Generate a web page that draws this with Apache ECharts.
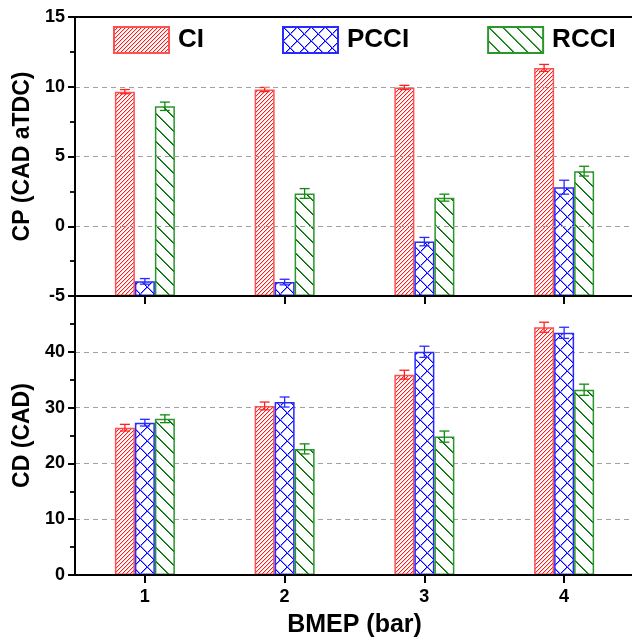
<!DOCTYPE html>
<html>
<head>
<meta charset="utf-8">
<script src="https://cdn.jsdelivr.net/npm/echarts@6/dist/echarts.min.js"></script>
<style>
html, body { margin: 0; padding: 0; background: #fff; }
#chart { width: 632px; height: 642px; }
</style>
</head>
<body>
<div id="chart"></div>
<script>
// categories (BMEP, bar)
var categories = ['1', '2', '3', '4'];
var seriesNames = ['CI', 'PCCI', 'RCCI'];

// CP (CAD aTDC) - top panel
var cpCI = [9.65, 9.8, 9.95, 11.35];
var cpCIErr = [0.15, 0.15, 0.15, 0.25];
var cpPCCI = [-3.95, -4.0, -1.1, 2.8];
var cpPCCIErr = [0.2, 0.2, 0.3, 0.5];
var cpRCCI = [8.6, 2.35, 2.05, 3.95];
var cpRCCIErr = [0.3, 0.35, 0.25, 0.35];

// CD (CAD) - bottom panel
var cdCI = [26.4, 30.3, 35.9, 44.4];
var cdCIErr = [0.6, 0.7, 0.8, 0.9];
var cdPCCI = [27.3, 31.0, 40.0, 43.4];
var cdPCCIErr = [0.6, 0.9, 1.0, 1.0];
var cdRCCI = [28.0, 22.6, 24.8, 33.2];
var cdRCCIErr = [0.7, 0.9, 1.0, 1.0];

// top panel bars start from the axis bottom (-5)
var cpBase = -5;

var font = 'Liberation Sans, Arial, sans-serif';

// pixel hatch tiles for the bar fills (main colour + soft edge pixel)
function hatch(size, color, soft, dirs) {
  var c = document.createElement('canvas');
  c.width = size; c.height = size;
  var ctx = c.getContext('2d');
  ctx.fillStyle = '#fff';
  ctx.fillRect(0, 0, size, size);
  dirs.forEach(function (d) {
    for (var i = 0; i < size; i++) {
      var x = d === '/' ? size - 1 - i : i;
      if (soft) {
        ctx.fillStyle = soft;
        ctx.fillRect((x + 1) % size, i, 1, 1);
      }
      ctx.fillStyle = color;
      ctx.fillRect(x, i, 1, 1);
    }
  });
  return { image: c, repeat: 'repeat' };
}

var styles = {
  CI: { fill: hatch(4, '#ff1a1a', '#ffd2d2', ['/']), border: '#ff5050', err: '#ff2020' },
  PCCI: { fill: hatch(14, '#0000ff', '#9090ff', ['/', '\\']), border: '#2a2aff', err: '#2a2aff' },
  RCCI: { fill: hatch(14, '#006e00', '#2f8f2f', ['\\']), border: '#2b962b', err: '#108a10' }
};
var offsets = { CI: -20, PCCI: 0, RCCI: 20 };

function barSeries(name, xi, yi, vals, shift) {
  return {
    name: name, type: 'bar', xAxisIndex: xi, yAxisIndex: yi,
    barWidth: 20, barGap: '0%', z: 2,
    itemStyle: { color: styles[name].fill, borderColor: styles[name].border, borderWidth: 1.5 },
    data: vals.map(function (v) { return v + shift; })
  };
}

function errSeries(name, xi, yi, vals, errs, shift) {
  var color = styles[name].err;
  var off = offsets[name];
  return {
    name: name + ' err', type: 'custom', xAxisIndex: xi, yAxisIndex: yi, z: 4,
    encode: { x: 0, y: [1, 2] },
    renderItem: function (params, api) {
      var lo = api.coord([api.value(0), api.value(1)]);
      var hi = api.coord([api.value(0), api.value(2)]);
      var x = lo[0] + off;
      var hw = 5;
      var st = { stroke: color, lineWidth: 1.3 };
      return {
        type: 'group',
        children: [
          { type: 'line', shape: { x1: x, y1: lo[1], x2: x, y2: hi[1] }, style: st },
          { type: 'line', shape: { x1: x - hw, y1: lo[1], x2: x + hw, y2: lo[1] }, style: st },
          { type: 'line', shape: { x1: x - hw, y1: hi[1], x2: x + hw, y2: hi[1] }, style: st }
        ]
      };
    },
    data: vals.map(function (v, i) { return [i, v - errs[i] + shift, v + errs[i] + shift]; })
  };
}

var black = { color: '#000', width: 2 };
var dashed = { show: true, lineStyle: { color: '#a0a0a0', type: [5, 4], width: 1.2 } };
var tickLabel = { color: '#000', fontSize: 18, fontWeight: 'bold', fontFamily: font };

function valueAxis(grid, max, name, fmt, extra) {
  var ax = {
    type: 'value', gridIndex: grid, min: 0, max: max, interval: max === 20 ? 5 : 10,
    axisLine: { show: true, lineStyle: black },
    axisTick: { show: true, length: 7, lineStyle: black },
    minorTick: { show: true, splitNumber: 2, length: 5, lineStyle: { color: '#000', width: 1.8 } },
    axisLabel: Object.assign({ margin: 10, formatter: fmt }, tickLabel),
    splitLine: dashed,
    name: name, nameLocation: 'middle', nameGap: 41,
    nameTextStyle: { color: '#000', fontSize: 23, fontWeight: 'bold', fontFamily: font }
  };
  return Object.assign(ax, extra || {});
}

var chart = echarts.init(document.getElementById('chart'));
var option = {
  animation: false,
  backgroundColor: '#fff',
  legend: {
    data: seriesNames, left: 113, top: 26, padding: 0,
    itemWidth: 55, itemHeight: 26, itemGap: 78, icon: 'rect',
    textStyle: { color: '#000', fontSize: 26, fontWeight: 'bold', fontFamily: font, padding: [0, 0, 0, 4] }
  },
  grid: [
    { left: 75, top: 17, width: 559, height: 279, outerBoundsMode: 'none', containLabel: false },
    { left: 75, top: 296, width: 559, height: 279, outerBoundsMode: 'none', containLabel: false }
  ],
  xAxis: [
    {
      type: 'category', gridIndex: 0, data: categories, z: 6,
      axisLine: { show: true, lineStyle: black },
      axisTick: { show: true, alignWithLabel: true, length: 8, lineStyle: black },
      axisLabel: { show: false }
    },
    {
      type: 'category', gridIndex: 0, data: categories, position: 'top', z: 6,
      axisLine: { show: true, lineStyle: black },
      axisTick: { show: false }, axisLabel: { show: false }
    },
    {
      type: 'category', gridIndex: 1, data: categories, z: 6,
      axisLine: { show: true, lineStyle: black },
      axisTick: { show: true, alignWithLabel: true, length: 8, lineStyle: black },
      axisLabel: Object.assign({ margin: 13 }, tickLabel),
      name: 'BMEP (bar)', nameLocation: 'middle', nameGap: 38,
      nameTextStyle: { color: '#000', fontSize: 25, fontWeight: 'bold', fontFamily: font }
    }
  ],
  yAxis: [
    valueAxis(0, 20, 'CP (CAD aTDC)', function (v) { return String(v + cpBase); }, { z: 5 }),
    valueAxis(1, 50, 'CD (CAD)', function (v) { return String(v); },
      { z: 1, axisLabel: Object.assign({ margin: 10, showMaxLabel: false }, tickLabel) })
  ],
  series: [
    barSeries('CI', 0, 0, cpCI, -cpBase),
    barSeries('PCCI', 0, 0, cpPCCI, -cpBase),
    barSeries('RCCI', 0, 0, cpRCCI, -cpBase),
    errSeries('CI', 0, 0, cpCI, cpCIErr, -cpBase),
    errSeries('PCCI', 0, 0, cpPCCI, cpPCCIErr, -cpBase),
    errSeries('RCCI', 0, 0, cpRCCI, cpRCCIErr, -cpBase),
    barSeries('CI', 2, 1, cdCI, 0),
    barSeries('PCCI', 2, 1, cdPCCI, 0),
    barSeries('RCCI', 2, 1, cdRCCI, 0),
    errSeries('CI', 2, 1, cdCI, cdCIErr, 0),
    errSeries('PCCI', 2, 1, cdPCCI, cdPCCIErr, 0),
    errSeries('RCCI', 2, 1, cdRCCI, cdRCCIErr, 0)
  ]
};
chart.setOption(option);
</script>
</body>
</html>
